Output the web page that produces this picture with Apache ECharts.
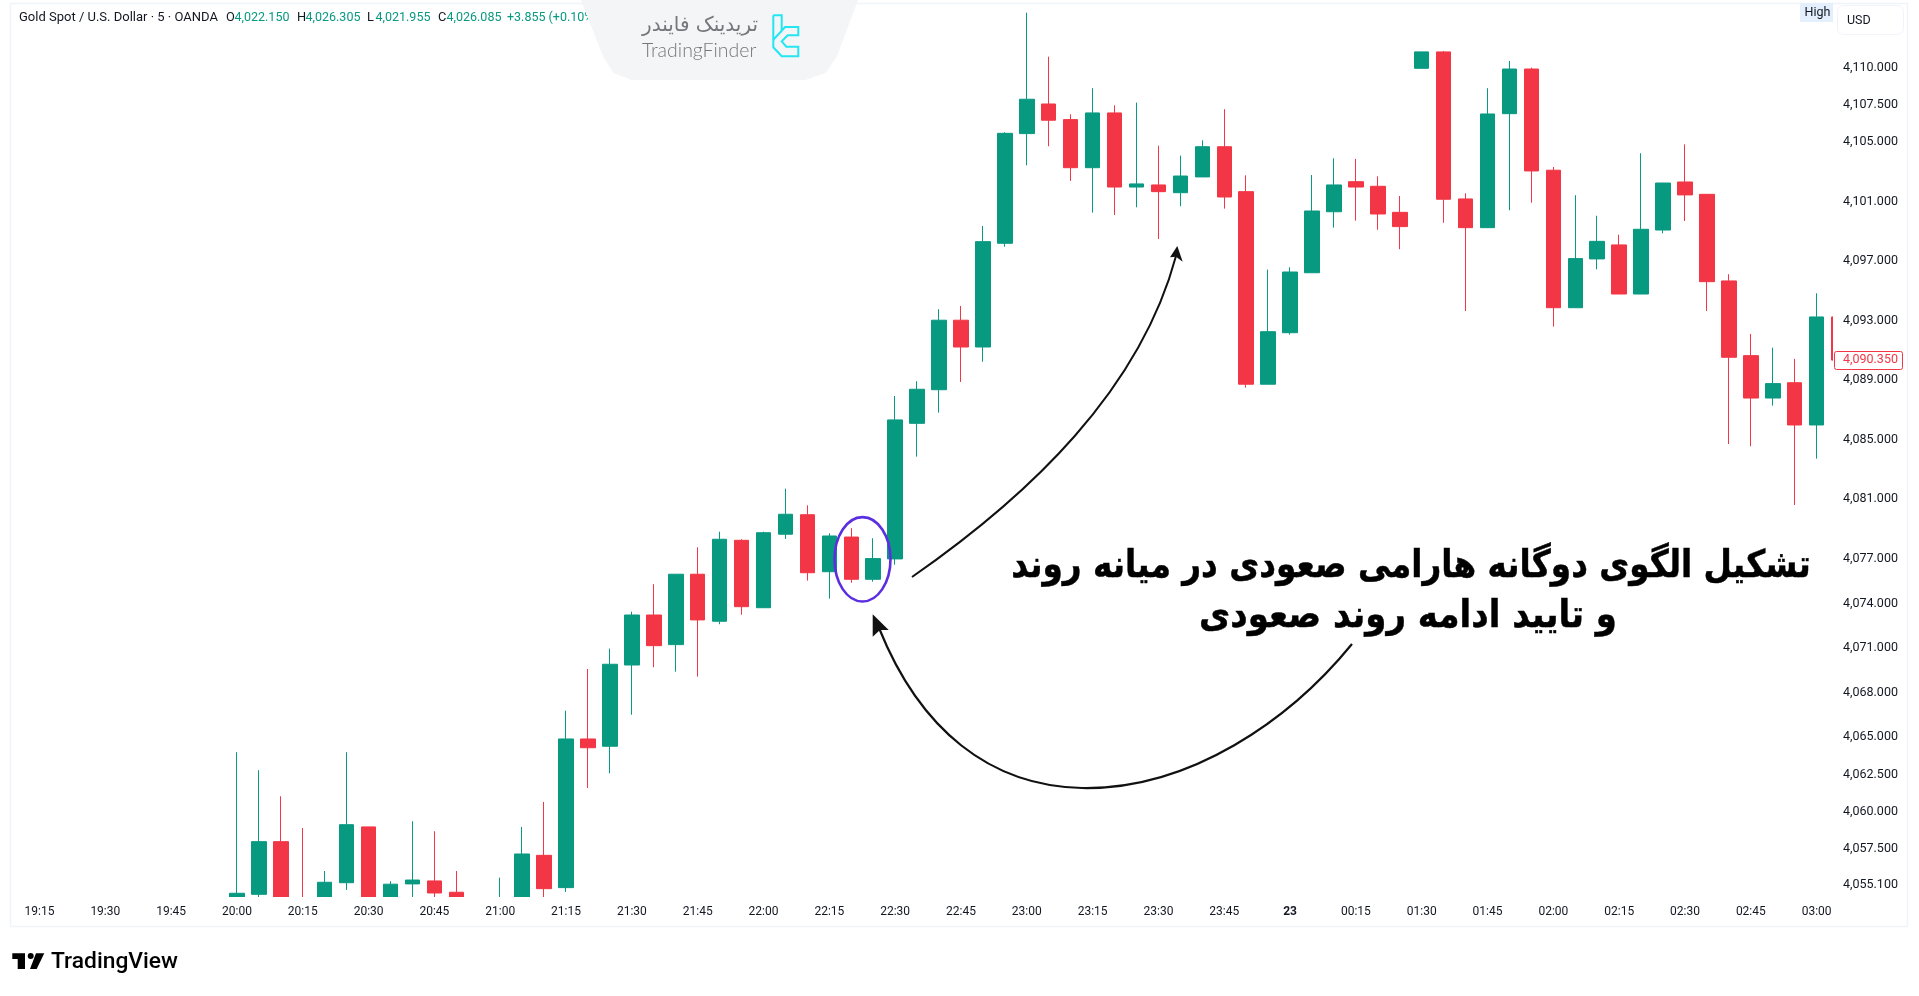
<!DOCTYPE html>
<html>
<head>
<meta charset="utf-8">
<title>Gold Spot / U.S. Dollar</title>
<script src="https://cdn.jsdelivr.net/npm/echarts@6/dist/echarts.min.js"></script>
<style>html,body{margin:0;padding:0;background:#fff;overflow:hidden}#c{width:1919px;height:996px}</style>
</head>
<body>
<div id="c"></div>
<script>
const firstIndex = 9;
const opens = [4054.1,4054.45,4057.99,4053.9,4053.8,4055.23,4058.98,4053.9,4055.15,4055.35,4054.59,4053.6,4053.4,4053.8,4057.07,4054.9,4064.89,4064.4,4069.86,4073.22,4071.23,4075.96,4072.8,4078.24,4073.71,4078.65,4079.96,4076.13,4078.46,4075.62,4076.99,4086.1,4088.36,4093.03,4091.23,4098.2,4105.57,4107.56,4106.51,4103.28,4106.96,4101.98,4102.12,4101.6,4102.66,4104.69,4101.67,4088.73,4092.19,4096.22,4100.32,4102.34,4102.03,4100.28,4109.96,4111.06,4101.18,4099.25,4106.91,4109.91,4103.11,4093.87,4097.15,4098.09,4094.79,4099.09,4102.32,4101.49,4095.67,4090.65,4087.8,4088.83,4085.99,4093.25];
const closes = [4054.52,4057.99,4053.9,4053.2,4055.26,4059.13,4053.7,4055.13,4055.41,4054.54,4054.0,4053.2,4053.9,4057.16,4054.83,4064.89,4064.3,4069.91,4073.22,4071.16,4075.96,4072.89,4078.31,4073.78,4078.75,4079.99,4076.06,4078.53,4075.62,4077.01,4086.33,4088.39,4093.03,4091.23,4098.31,4105.59,4107.88,4106.47,4103.28,4106.96,4101.98,4102.19,4101.67,4102.72,4104.69,4101.31,4088.73,4092.26,4096.27,4100.37,4102.12,4101.98,4100.17,4099.32,4111.06,4101.16,4099.25,4106.89,4109.91,4103.06,4093.87,4097.17,4098.33,4094.79,4099.14,4102.25,4101.45,4095.62,4090.54,4087.8,4088.77,4085.99,4093.25,4090.35];
const lows = [4053.8,4054.1,4053.5,4052.9,4053.5,4054.74,4053.4,4053.6,4053.9,4054.0,4053.7,4052.9,4053.1,4053.5,4054.0,4054.61,4061.6,4062.58,4066.52,4069.71,4069.41,4069.08,4072.6,4073.24,4073.71,4078.33,4075.53,4074.32,4075.39,4075.46,4076.6,4083.86,4086.82,4088.88,4090.24,4097.97,4103.44,4104.72,4102.39,4100.26,4100.1,4100.62,4098.49,4100.69,4102.66,4100.53,4088.5,4088.73,4092.06,4096.22,4099.25,4099.72,4099.11,4097.8,4109.96,4099.58,4093.65,4099.25,4100.42,4100.93,4092.6,4093.87,4096.45,4094.79,4094.79,4098.87,4099.7,4093.65,4084.71,4084.56,4087.29,4080.61,4083.73,4090.35];
const highs = [4064.0,4062.79,4061.04,4058.91,4056.02,4064.0,4058.98,4055.33,4059.36,4058.69,4056.02,4053.9,4055.57,4058.98,4060.66,4066.79,4069.59,4070.96,4073.44,4075.29,4075.96,4077.77,4078.82,4078.31,4078.82,4081.71,4080.59,4078.71,4079.05,4078.38,4087.94,4088.93,4093.77,4093.99,4099.36,4105.66,4113.7,4110.74,4106.87,4108.62,4107.47,4107.65,4104.76,4104.09,4105.12,4107.21,4102.77,4096.43,4096.59,4102.79,4103.91,4103.87,4102.7,4101.38,4111.06,4111.12,4101.56,4108.62,4110.45,4110.0,4103.33,4101.43,4100.05,4098.78,4104.25,4102.25,4104.85,4101.49,4096.12,4092.11,4091.18,4090.43,4094.84,4093.25];
const priceTicks = [4110,4107.5,4105,4101,4097,4093,4089,4085,4081,4077,4074,4071,4068,4065,4062.5,4060,4057.5,4055.1];
const lastPrice = 4090.35;
const timeLabels = ['19:15','19:30','19:45','20:00','20:15','20:30','20:45','21:00','21:15','21:30','21:45','22:00','22:15','22:30','22:45','23:00','23:15','23:30','23:45','23','00:15','01:30','01:45','02:00','02:15','02:30','02:45','03:00'];
const barsPerLabel = 3;
const dayLabel = '23';
const headerTitle = 'Gold Spot / U.S. Dollar · 5 · OANDA';
const ohlcLetters = ['O','H','L','C'];
const ohlcValues = ['4,022.150','4,026.305','4,021.955','4,026.085'];
const changeText = '+3.855 (+0.10%)';
const noteLine1 = 'تشکیل الگوی دوگانه هارامی صعودی در میانه روند';
const noteLine2 = 'و تایید ادامه روند صعودی';

const GREEN = '#089981', RED = '#F23645', INK = '#131722';
const UI_FONT = 'Roboto, sans-serif';

const candles = opens.map((o, k) => [firstIndex + k, o, closes[k], lows[k], highs[k]]);
const labelTicks = timeLabels.map((_, k) => k * barsPerLabel);

const txt = (x, y, text, fill, size) => ({
  type: 'text', x, y, z: 20,
  style: { text, fill, font: size + 'px ' + UI_FONT, verticalAlign: 'middle' }
});

const headerX = [226, 297, 367, 438];
const headerItems = [txt(19, 18, headerTitle, INK, 13)];
ohlcLetters.forEach((l, k) => {
  headerItems.push(txt(headerX[k], 18, l, INK, 12.8));
  headerItems.push(txt(headerX[k] + 8.5, 18, ohlcValues[k], GREEN, 12.5));
});
headerItems.push(txt(507, 18, changeText, GREEN, 12.5));

const noteFont = 'bold 38px "DejaVu Sans"';
const graphics = [
  // masks that end the plot at its bottom and right edges
  { type: 'rect', z: 5, shape: { x: 11, y: 897, width: 1895, height: 29 }, style: { fill: '#fff' } },
  { type: 'rect', z: 5, shape: { x: 1833, y: 4, width: 73, height: 922 }, style: { fill: '#fff' } },
  { type: 'rect', z: 6, shape: { x: 10.5, y: 3.5, width: 1897, height: 923 }, style: { fill: 'none', stroke: '#f0f3fa', lineWidth: 1.5 } },
  ...headerItems,
  // logo tab
  { type: 'polygon', z: 21, shape: { points: [[582,0],[857,0],[836,56],[825,72],[805,79],[632,79],[614,72],[604,56]] }, style: { fill: '#f4f5f6', stroke: '#f4f5f6', lineWidth: 2, lineJoin: 'round' } },
  { type: 'text', z: 22, x: 758, y: 26, style: { text: 'تریدینک فایندر', fill: '#74777c', font: '20px "DejaVu Sans"', align: 'right', verticalAlign: 'middle' } },
  { type: 'text', z: 22, x: 642, y: 51, style: { text: 'TradingFinder', fill: '#74777c', font: '300 19.5px Lato, sans-serif', verticalAlign: 'middle' } },
  { type: 'polyline', z: 22, shape: { points: [[773.3,15.3],[781.7,15.3],[781.7,30.7],[785,27],[798.3,27],[798.3,35.3],[787.7,35.3],[781.7,41.3],[786.3,46.7],[798.3,46.7],[798.3,56.3],[781.7,56.3],[773.3,47.3],[773.3,15.3]] }, style: { fill: 'none', stroke: '#22e6f2', lineWidth: 2 } },
  { type: 'line', z: 22, shape: { x1: 773.3, y1: 39.7, x2: 781.7, y2: 30.7 }, style: { stroke: '#22e6f2', lineWidth: 2 } },
  // High tag and currency box
  { type: 'rect', z: 20, shape: { x: 1800, y: 3, width: 33, height: 19 }, style: { fill: '#e3effd' } },
  txt(1804.5, 12.5, 'High', INK, 12.5),
  { type: 'rect', z: 20, shape: { x: 1837.5, y: 5.5, width: 66, height: 29, r: 6 }, style: { fill: '#fff', stroke: '#f0f3fa', lineWidth: 1 } },
  txt(1847, 21, 'USD', INK, 12.5),
  // last price box
  { type: 'rect', z: 7, shape: { x: 1834.5, y: 351.5, width: 68, height: 18, r: 2 }, style: { fill: '#fff', stroke: RED, lineWidth: 1 } },
  // annotations
  { type: 'ellipse', z: 30, shape: { cx: 862.5, cy: 559.3, rx: 28, ry: 42.2 }, style: { fill: 'none', stroke: '#5b2fe0', lineWidth: 2.6 } },
  { type: 'bezierCurve', z: 30, shape: { x1: 912, y1: 577, cpx1: 1030, cpy1: 495, cpx2: 1140, cpy2: 390, x2: 1176, y2: 256 }, style: { fill: 'none', stroke: '#111', lineWidth: 2 } },
  { type: 'polygon', z: 30, shape: { points: [[1177.3,246],[1182.7,261.7],[1176,256.7],[1170,257.3]] }, style: { fill: '#111' } },
  { type: 'bezierCurve', z: 30, shape: { x1: 1352, y1: 644, cpx1: 1290, cpy1: 720, cpx2: 1190, cpy2: 790, x2: 1082, y2: 788 }, style: { fill: 'none', stroke: '#111', lineWidth: 2.2 } },
  { type: 'bezierCurve', z: 30, shape: { x1: 1082, y1: 788, cpx1: 990, cpy1: 786, cpx2: 920, cpy2: 730, x2: 879, y2: 628 }, style: { fill: 'none', stroke: '#111', lineWidth: 2.2 } },
  { type: 'polygon', z: 30, shape: { points: [[872.7,614.3],[888.7,630],[880,630],[872.7,636.7]] }, style: { fill: '#111' } },
  { type: 'text', z: 30, x: 1411, y: 567, scaleX: 0.86, style: { text: noteLine1, fill: '#000', stroke: '#000', lineWidth: 0.5, font: noteFont, align: 'center', verticalAlign: 'middle' } },
  { type: 'text', z: 30, x: 1408, y: 617, scaleX: 0.895, style: { text: noteLine2, fill: '#000', stroke: '#000', lineWidth: 0.5, font: noteFont, align: 'center', verticalAlign: 'middle' } },
  // TradingView mark
  { type: 'polygon', z: 20, shape: { points: [[12.3,953.3],[25,953.3],[25,969],[17.7,969],[17.7,959],[12.3,959]] }, style: { fill: '#000' } },
  { type: 'circle', z: 20, shape: { cx: 30.7, cy: 956, r: 3 }, style: { fill: '#000' } },
  { type: 'polygon', z: 20, shape: { points: [[36,953.3],[44.3,953.3],[36.7,969],[30,969]] }, style: { fill: '#000' } },
  { type: 'text', z: 20, x: 51, y: 962, style: { text: 'TradingView', fill: '#000', font: '500 22.8px Roboto, sans-serif', verticalAlign: 'middle' } }
];

const gridLeft = 12, gridRight = 1833, gridTop = 4, gridBottom = 897;
const barStep = 21.94, firstBarX = 39.5;

const chart = echarts.init(document.getElementById('c'));
chart.setOption({
  animation: false,
  backgroundColor: '#fff',
  grid: { left: gridLeft, top: gridTop, width: gridRight - gridLeft, height: gridBottom - gridTop, containLabel: false },
  xAxis: {
    type: 'value', scale: true, z: 10,
    min: (gridLeft - firstBarX) / barStep,
    max: (gridRight - firstBarX) / barStep,
    splitLine: { show: false }, axisLine: { show: false },
    axisTick: { show: false },
    axisLabel: {
      customValues: labelTicks, color: INK, fontFamily: UI_FONT, fontSize: 12, margin: 9, showMinLabel: true, showMaxLabel: true, hideOverlap: false,
      formatter: v => {
        const t = timeLabels[Math.round(v / barsPerLabel)];
        return t === dayLabel ? '{b|' + t + '}' : t;
      },
      rich: { b: { fontWeight: 'bold', fontFamily: UI_FONT, fontSize: 12, color: INK } }
    }
  },
  yAxis: {
    type: 'value', position: 'right', scale: true, z: 10,
    min: 4054.27, max: 4114.28,
    splitLine: { show: false }, axisLine: { show: false },
    axisTick: { show: false },
    axisLabel: {
      customValues: priceTicks.concat([lastPrice]), color: INK, fontFamily: UI_FONT, fontSize: 12.5, margin: 10, align: 'left', hideOverlap: false,
      formatter: v => {
        const s = v.toLocaleString('en-US', { minimumFractionDigits: 3, maximumFractionDigits: 3 });
        return Math.abs(v - lastPrice) < 1e-6 ? '{last|' + s + '}' : s;
      },
      rich: { last: { color: RED, fontFamily: UI_FONT, fontSize: 12.5 } }
    }
  },
  series: [{
    type: 'candlestick',
    clip: true,
    barWidth: 15,
    encode: { x: 0, y: [1, 2, 3, 4] },
    data: candles,
    itemStyle: { color: GREEN, color0: RED, borderColor: GREEN, borderColor0: RED, borderWidth: 1 }
  }],
  graphic: { elements: graphics }
});
</script>
</body>
</html>
